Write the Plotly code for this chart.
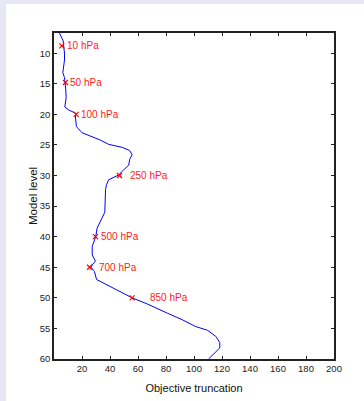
import plotly.graph_objects as go

# Profile of objective truncation vs model level
curve_level = [6.7, 8.0, 8.6, 10, 11.1, 12.5, 13.2, 14, 15, 16, 17.3, 18.1, 18.8, 19.3, 19.8,
               20.6, 22, 23, 23.5, 24.2, 24.9, 25.4, 25.9, 26.6, 27.4, 28.3, 29.3, 29.9, 30.7,
               31.5, 32.3, 34, 36, 38.6, 40, 41.6, 43, 44, 44.6, 45, 45.7, 47, 47.9, 48.8, 50,
               51, 51.9, 52.5, 53.6, 54.7, 55.3, 56.3, 57.3, 58.2, 60]
curve_trunc = [3.9, 6.6, 6.8, 7.5, 7.5, 6.6, 6.3, 7.5, 8.2, 8.4, 8.7, 8.2, 7.7, 10.6, 15.4,
               15.4, 16, 20, 26, 33, 39, 48.7, 54, 55.8, 54, 53.4, 48.7, 46.3, 39,
               37.5, 36.8, 36.6, 36.3, 30.8, 29.8, 27.3, 27.3, 29.6, 27.3, 26.5, 28.9, 30.4, 38, 45, 55.8,
               66.6, 76, 80.9, 91.8, 101.3, 109.6, 115.6, 118.4, 118.4, 110.4]

# Pressure markers
press_labels = ["10 hPa", "50 hPa", "100 hPa", "250 hPa", "500 hPa", "700 hPa", "850 hPa"]
press_level = [8.8, 14.8, 20, 30, 40, 45, 50]
press_trunc = [5.6, 8.2, 15.8, 46.8, 29.6, 25.4, 55.8]

x_ticks = [20, 40, 60, 80, 100, 120, 140, 160, 180, 200]
y_ticks = [10, 15, 20, 25, 30, 35, 40, 45, 50, 55, 60]

# styling
label_xshift = [3, 3, 3, 8, 4, 7, 16]
FONT = "Liberation Sans, Arial, sans-serif"

fig = go.Figure()
fig.add_trace(go.Scatter(x=curve_trunc, y=curve_level, mode="lines",
                         line=dict(color="#0000ff", width=1), hoverinfo="skip"))
fig.add_trace(go.Scatter(x=press_trunc, y=press_level, mode="markers",
                         marker=dict(symbol="x-thin", size=5, line=dict(color="#ff0000", width=1.2)),
                         cliponaxis=False, hoverinfo="skip"))

for lab, lv, tr, dx in zip(press_labels, press_level, press_trunc, label_xshift):
    fig.add_annotation(x=tr, y=lv, text=lab, showarrow=False, xanchor="left", yanchor="middle",
                       xshift=dx, font=dict(family=FONT, size=10, color="#ff1a1a"))

axis_common = dict(showline=True, linecolor="#222222", linewidth=1.5, mirror="ticks",
                   ticks="inside", ticklen=3, tickcolor="#222222", tickwidth=1,
                   showgrid=False, zeroline=False, automargin=False,
                   tickfont=dict(family=FONT, size=9.5, color="#222222"))

fig.update_layout(
    width=358, height=397,
    margin=dict(l=48, r=30, t=29, b=42),
    paper_bgcolor="white", plot_bgcolor="white",
    showlegend=False,
    xaxis=dict(range=[0, 200], tickvals=x_ticks, ticktext=[str(v) for v in x_ticks],
               title=dict(text="Objective truncation", font=dict(family=FONT, size=11, color="#111111"),
                          standoff=11),
               **axis_common),
    yaxis=dict(range=[60, 6.7], tickvals=y_ticks, ticktext=[str(v) for v in y_ticks],
               title=dict(text="Model level", font=dict(family=FONT, size=11.5, color="#111111"),
                          standoff=0),
               **axis_common),
)

fig.write_html("out.html",
               post_script="document.body.style.margin='4px 0 0 6px';"
                           "document.body.style.background='#e8e8f4';"
                           "document.body.style.overflow='hidden';")
